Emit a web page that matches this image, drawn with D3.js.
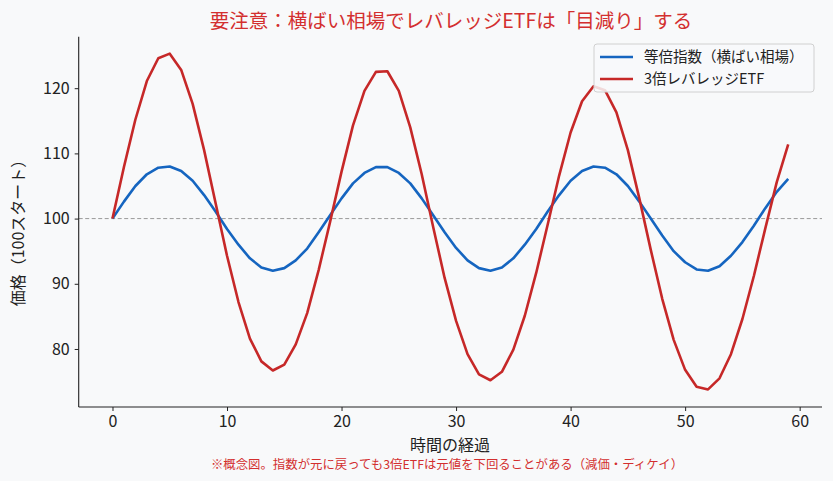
<!DOCTYPE html>
<html lang="ja">
<head>
  <meta charset="UTF-8">
  <script src="https://d3js.org/d3.v7.min.js"></script>
  <title>横ばい相場とレバレッジETF</title>
  <style>
    body { margin: 0; background: #f8f9fa; }
    svg { display: block; font-family: "Noto Sans CJK JP", "Noto Sans", sans-serif; }
  </style>
</head>
<body>
  <svg id="chart" width="833" height="481"></svg>
  <script>
    // 時間 0..59
    const days = d3.range(0, 60);

    // 等倍指数（横ばい相場）
    const indexValues = [
      100.0, 102.6, 105.0, 106.8, 107.8, 108.0, 107.3, 105.8, 103.6, 101.1,
      98.4, 96.0, 93.9, 92.5, 92.0, 92.4, 93.6, 95.4, 97.9, 100.5,
      103.1, 105.4, 107.0, 107.9, 107.9, 107.0, 105.4, 103.1, 100.5, 97.9,
      95.5, 93.6, 92.4, 92.0, 92.5, 93.9, 96.0, 98.4, 101.1, 103.6,
      105.8, 107.3, 108.0, 107.8, 106.8, 105.0, 102.6, 100.0, 97.4, 95.0,
      93.3, 92.2, 92.0, 92.7, 94.3, 96.4, 98.9, 101.6, 104.1, 106.1
    ];

    // 3倍レバレッジETF
    const etfValues = [
      100.0, 107.9, 115.2, 121.1, 124.6, 125.3, 122.8, 117.6, 110.5, 102.4,
      94.3, 87.2, 81.6, 78.1, 76.7, 77.6, 80.7, 85.5, 92.1, 99.5,
      107.2, 114.3, 119.6, 122.5, 122.6, 119.6, 114.0, 106.8, 98.7, 90.9,
      84.3, 79.2, 76.1, 75.2, 76.5, 79.9, 85.1, 91.7, 99.1, 106.6,
      113.2, 118.0, 120.3, 119.7, 116.3, 110.5, 103.1, 95.2, 87.7, 81.4,
      76.8, 74.2, 73.8, 75.5, 79.2, 84.6, 91.2, 98.5, 105.6, 111.4
    ];

    const xTicks = [0, 10, 20, 30, 40, 50, 60];
    const yTicks = [80, 90, 100, 110, 120];

    const series = [
      { name: "等倍指数（横ばい相場）", values: indexValues, color: "#1565c0" },
      { name: "3倍レバレッジETF", values: etfValues, color: "#c62828" }
    ];

    const svg = d3.select("#chart");
    const x = d3.scaleLinear().domain([-2.95, 61.95]).range([78.7, 822]);
    const y = d3.scaleLinear().domain([71.1, 127.9]).range([407, 36.7]);

    // 基準線 100
    svg.append("line")
      .attr("x1", x.range()[0]).attr("x2", x.range()[1])
      .attr("y1", y(100)).attr("y2", y(100))
      .attr("stroke", "#999").attr("stroke-width", 1)
      .attr("stroke-dasharray", "4,2.5");

    const line = d3.line().x((d, i) => x(days[i])).y(d => y(d));

    series.forEach(s => {
      svg.append("path")
        .attr("d", line(s.values))
        .attr("fill", "none")
        .attr("stroke", s.color)
        .attr("stroke-width", 2.6)
        .attr("stroke-linejoin", "round");
    });

    // 軸
    const xAxis = svg.append("g")
      .attr("transform", `translate(0,${y.range()[0]})`)
      .call(d3.axisBottom(x).tickValues(xTicks).tickSize(4).tickPadding(5));
    const yAxis = svg.append("g")
      .attr("transform", `translate(${x.range()[0]},0)`)
      .call(d3.axisLeft(y).tickValues(yTicks).tickSize(4).tickPadding(5));

    [xAxis, yAxis].forEach(g => {
      g.select(".domain").attr("stroke", "#222").attr("stroke-width", 1.1);
      g.selectAll(".tick line").attr("stroke", "#222").attr("stroke-width", 1);
      g.selectAll(".tick text")
        .attr("fill", "#222")
        .style("font-family", "'Noto Sans CJK JP', sans-serif")
        .style("font-size", "16px");
    });
    // domain path を軸の端で止める
    xAxis.select(".domain").attr("d", `M${x.range()[0]},0H${x.range()[1]}`);
    yAxis.select(".domain").attr("d", `M0,${y.range()[0]}V${y.range()[1]}`);

    // タイトル
    svg.append("text")
      .attr("x", 451).attr("y", 28)
      .attr("text-anchor", "middle")
      .attr("fill", "#d32f2f")
      .style("font-size", "19.5px")
      .text("要注意：横ばい相場でレバレッジETFは「目減り」する");

    svg.append("text")
      .attr("x", 450).attr("y", 451)
      .attr("text-anchor", "middle")
      .attr("fill", "#222")
      .style("font-size", "16px")
      .text("時間の経過");

    svg.append("text")
      .attr("transform", `translate(24,229) rotate(-90)`)
      .attr("text-anchor", "middle")
      .attr("fill", "#222")
      .style("font-size", "16px")
      .text("価格（100スタート）");

    svg.append("text")
      .attr("x", 447).attr("y", 469)
      .attr("text-anchor", "middle")
      .attr("fill", "#d32f2f")
      .style("font-size", "12.4px")
      .text("※概念図。指数が元に戻っても3倍ETFは元値を下回ることがある（減価・ディケイ）");

    // 凡例
    const legend = svg.append("g").attr("transform", "translate(594,44)");
    legend.append("rect")
      .attr("width", 220).attr("height", 48).attr("rx", 3)
      .attr("fill", "#f8f9fa").attr("fill-opacity", 0.85)
      .attr("stroke", "#d0d0d0").attr("stroke-width", 1);
    series.forEach((s, i) => {
      const ly = 13 + i * 22;
      legend.append("line")
        .attr("x1", 6).attr("x2", 39).attr("y1", ly).attr("y2", ly)
        .attr("stroke", s.color).attr("stroke-width", 2.6);
      legend.append("text")
        .attr("x", 50).attr("y", ly + 5)
        .attr("fill", "#222")
        .style("font-size", "14.5px")
        .text(s.name);
    });
  </script>
</body>
</html>
